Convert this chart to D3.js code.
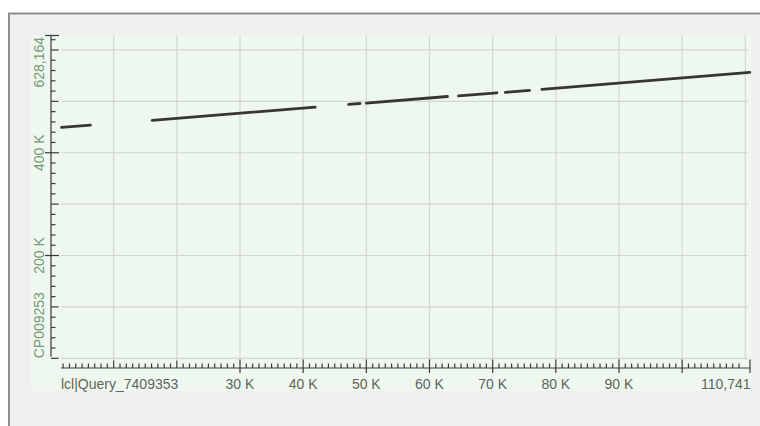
<!DOCTYPE html>
<html>
<head>
<meta charset="utf-8">
<script src="https://cdn.jsdelivr.net/npm/d3@7"></script>
<style>
  html, body { margin: 0; padding: 0; background: #ffffff; }
  svg { display: block; }
  text { font-family: "Liberation Sans", Arial, Helvetica, sans-serif; }
</style>
</head>
<body>
<svg id="chart" width="760" height="426"></svg>
<script>
// Dot plot of query vs subject alignment segments
const queryName = "lcl|Query_7409353";
const subjectName = "CP009253";
const queryLength = 110741;
const subjectLength = 628164;

// HSP segments: query start/end, subject start/end
const qStart = [1740, 16090, 47200, 50000, 64600, 72000, 77800];
const qEnd   = [6330, 41900, 49000, 62850, 70670, 75830, 110700];
const sStart = [449300, 463100, 494000, 496600, 510600, 517500, 523500];
const sEnd   = [453800, 488700, 495800, 509450, 516700, 521300, 556500];

// axis tick values
const xLabelTicks = [30000, 40000, 50000, 60000, 70000, 80000, 90000];
const xTickLabels = ["30 K", "40 K", "50 K", "60 K", "70 K", "80 K", "90 K"];
const xPlainMajor = [10000, 20000];
const xUnlabeledCross = [100000];
const yLabelTicks = [200000, 400000];
const yTickLabels = ["200 K", "400 K"];
const yGridTicks = [0, 100000, 300000, 500000, 600000];

const svg = d3.select("#chart");

// outer panel
svg.append("rect")
  .attr("x", 9).attr("y", 13.5)
  .attr("width", 770).attr("height", 430)
  .attr("fill", "#efefef")
  .attr("stroke", "#858585").attr("stroke-width", 1.8);

// plot background
svg.append("rect")
  .attr("x", 31).attr("y", 35)
  .attr("width", 720).attr("height", 356)
  .attr("fill", "#eef8ef");

const x = d3.scaleLinear().domain([0, queryLength]).range([50.5, 750]);
const y = d3.scaleLinear().domain([0, subjectLength]).range([358.3, 35.5]);

const gridColor = "#d2d6d2";
const axisColor = "#3a3a3a";

// vertical grid every 10 K
const xGrid = d3.range(10000, queryLength, 10000);
svg.append("g").selectAll("line").data(xGrid).join("line")
  .attr("x1", d => x(d)).attr("x2", d => x(d))
  .attr("y1", y(subjectLength)).attr("y2", 360)
  .attr("stroke", gridColor).attr("stroke-width", 1.2);

// horizontal grid every 100 K
const yGrid = d3.range(0, subjectLength, 100000);
svg.append("g").selectAll("line").data(yGrid).join("line")
  .attr("x1", 61).attr("x2", x(queryLength) - 2)
  .attr("y1", d => y(d)).attr("y2", d => y(d))
  .attr("stroke", gridColor).attr("stroke-width", 1.2);

// y axis
const yAxisX = x(0) + 0.5;
const yAx = svg.append("g").attr("stroke", axisColor).attr("stroke-width", 1.2);
yAx.append("line")
  .attr("x1", yAxisX).attr("x2", yAxisX)
  .attr("y1", y(subjectLength)).attr("y2", y(0) - 1.5);
const yMinor = d3.range(20000, subjectLength, 20000).filter(d => d % 100000 !== 0);
yAx.selectAll(".ymin").data(yMinor).join("line")
  .attr("x1", yAxisX).attr("x2", yAxisX + 4.5)
  .attr("y1", d => y(d)).attr("y2", d => y(d));
yAx.selectAll(".ymid").data(yGridTicks).join("line")
  .attr("x1", yAxisX).attr("x2", yAxisX + 7.5)
  .attr("y1", d => y(d)).attr("y2", d => y(d));
yAx.selectAll(".ymaj").data(yLabelTicks.concat([subjectLength])).join("line")
  .attr("x1", yAxisX - 6).attr("x2", yAxisX + 8)
  .attr("y1", d => y(d)).attr("y2", d => y(d));

const yLabelColor = "#789879";
const yText = svg.append("g")
  .attr("fill", yLabelColor).attr("font-size", 14);
yText.selectAll("text").data(yLabelTicks).join("text")
  .attr("transform", d => `translate(43.5,${y(d)}) rotate(-90)`)
  .attr("text-anchor", "middle")
  .text((d, i) => yTickLabels[i]);
yText.append("text")
  .attr("transform", `translate(43.5,${y(subjectLength) + 1.5}) rotate(-90)`)
  .attr("text-anchor", "end")
  .text(d3.format(",")(subjectLength));
yText.append("text")
  .attr("transform", `translate(43.5,${y(0)}) rotate(-90)`)
  .attr("text-anchor", "start")
  .text(subjectName);

// x axis
const xAxisY = 368;
const xAx = svg.append("g").attr("stroke", axisColor).attr("stroke-width", 1.2);
xAx.append("line")
  .attr("x1", 61).attr("x2", x(queryLength))
  .attr("y1", xAxisY).attr("y2", xAxisY);
const xMinor = d3.range(2000, queryLength, 1000).filter(d => d % 10000 !== 0);
xAx.selectAll(".xmin").data(xMinor).join("line")
  .attr("x1", d => x(d)).attr("x2", d => x(d))
  .attr("y1", xAxisY - 4.5).attr("y2", xAxisY);
xAx.selectAll(".xmid").data(xPlainMajor).join("line")
  .attr("x1", d => x(d)).attr("x2", d => x(d))
  .attr("y1", xAxisY - 7.5).attr("y2", xAxisY);
xAx.selectAll(".xmaj").data(xLabelTicks.concat(xUnlabeledCross, [queryLength])).join("line")
  .attr("x1", d => x(d)).attr("x2", d => x(d))
  .attr("y1", xAxisY - 8.5).attr("y2", xAxisY + 5);

const xLabelColor = "#5f645f";
const xText = svg.append("g")
  .attr("fill", xLabelColor).attr("font-size", 14);
xText.selectAll("text").data(xLabelTicks).join("text")
  .attr("x", d => x(d)).attr("y", 388.5)
  .attr("text-anchor", "middle")
  .text((d, i) => xTickLabels[i]);
xText.append("text")
  .attr("x", 61).attr("y", 388.5)
  .attr("text-anchor", "start")
  .text(queryName);
xText.append("text")
  .attr("x", x(queryLength) + 0.5).attr("y", 388.5)
  .attr("text-anchor", "end")
  .text(d3.format(",")(queryLength));

// alignment segments
const segs = qStart.map((q, i) => ({ q0: q, q1: qEnd[i], s0: sStart[i], s1: sEnd[i] }));
svg.append("g").selectAll("line").data(segs).join("line")
  .attr("x1", d => x(d.q0)).attr("x2", d => x(d.q1))
  .attr("y1", d => y(d.s0)).attr("y2", d => y(d.s1))
  .attr("stroke", "#363636").attr("stroke-width", 2.8)
  .attr("stroke-linecap", "round");
</script>
</body>
</html>
